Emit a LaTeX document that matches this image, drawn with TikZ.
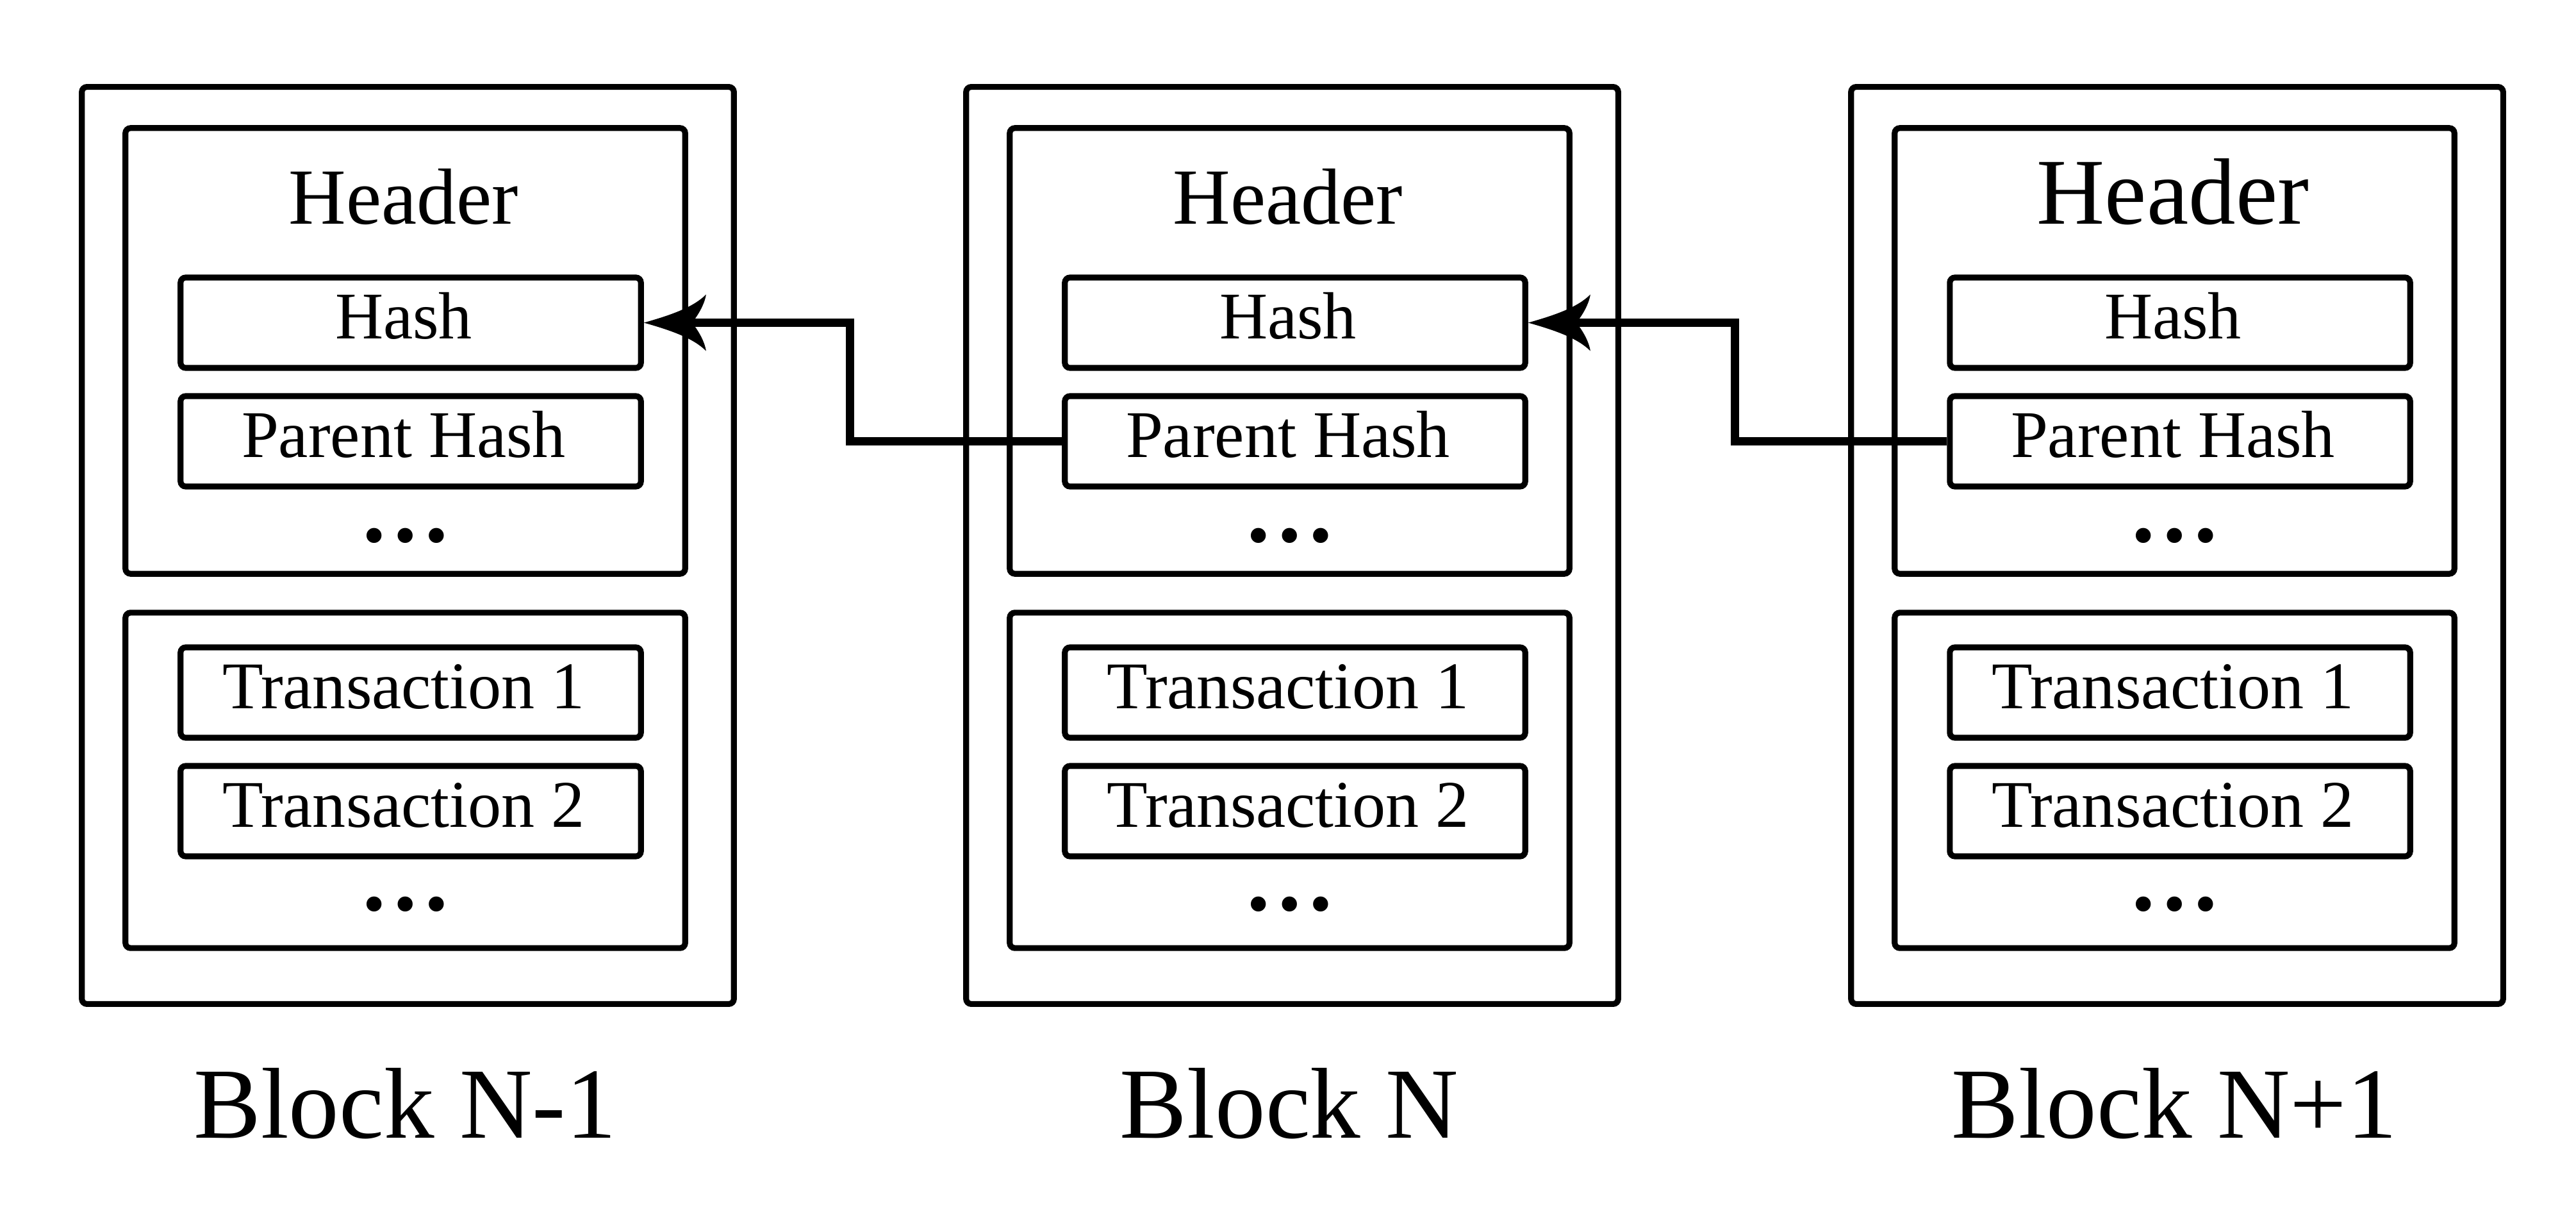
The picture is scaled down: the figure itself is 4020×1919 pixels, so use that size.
\documentclass[tikz,border=0pt]{standalone}
\usepackage{fontspec}
\setmainfont{Liberation Serif}
\usetikzlibrary{arrows.meta,calc}

\pgfdeclarearrow{
  name = Barb,
  parameters = {\the\pgfarrowlength,\the\pgfarrowwidth},
  setup code = {
    \pgfarrowssettipend{\pgfarrowlength}
    \pgfarrowssetlineend{.5\pgfarrowlength}
    \pgfarrowssetvisualbackend{0pt}
    \pgfarrowssetbackend{0pt}
    \pgfarrowssavethe\pgfarrowlength
    \pgfarrowssavethe\pgfarrowwidth
  },
  drawing code = {
    \pgfpathmoveto{\pgfqpoint{\pgfarrowlength}{0pt}}
    \pgfpathcurveto{\pgfqpoint{.567\pgfarrowlength}{.135\pgfarrowwidth}}{\pgfqpoint{.206\pgfarrowlength}{.2725\pgfarrowwidth}}{\pgfqpoint{0pt}{.5\pgfarrowwidth}}
    \pgfpathcurveto{\pgfqpoint{.02\pgfarrowlength}{.34\pgfarrowwidth}}{\pgfqpoint{.124\pgfarrowlength}{.135\pgfarrowwidth}}{\pgfqpoint{.227\pgfarrowlength}{0pt}}
    \pgfpathcurveto{\pgfqpoint{.124\pgfarrowlength}{-.135\pgfarrowwidth}}{\pgfqpoint{.02\pgfarrowlength}{-.34\pgfarrowwidth}}{\pgfqpoint{0pt}{-.5\pgfarrowwidth}}
    \pgfpathcurveto{\pgfqpoint{.206\pgfarrowlength}{-.2725\pgfarrowwidth}}{\pgfqpoint{.567\pgfarrowlength}{-.135\pgfarrowwidth}}{\pgfqpoint{\pgfarrowlength}{0pt}}
    \pgfpathclose
    \pgfusepathqfill
  },
  defaults = {length = 9.7mm, width = 8.8mm}
}

\begin{document}
\begin{tikzpicture}[x=0.01cm,y=-0.01cm,
  blk/.style={draw, line width=2.6pt, rounded corners=0.08cm, inner sep=0pt,
    minimum width=10.17cm, minimum height=14.3cm},
  sect/.style={draw, line width=2.6pt, rounded corners=0.08cm, inner sep=0pt,
    minimum width=8.73cm},
  fld/.style={draw, line width=2.6pt, rounded corners=0.08cm, inner sep=0pt,
    minimum width=7.18cm, minimum height=1.41cm, text height=0.5cm, text depth=0pt,
    font=\fontsize{29.6pt}{32pt}\selectfont, execute at end node={\hspace*{0.22cm}}},
  hdr/.style={anchor=base, inner sep=0pt},
  dotsn/.style={anchor=base, inner sep=0pt, font=\fontsize{41pt}{41pt}\selectfont\bfseries},
  lbl/.style={anchor=base, inner sep=0pt, font=\fontsize{44.7pt}{50pt}\selectfont},
  conn/.style={line width=3.7pt, -{Barb[length=0.97cm,width=0.88cm]}}
]
\useasboundingbox (0,0) rectangle (4020,1919);

\foreach \i/\L/\lab/\hs in {1/128/{Block N-1}/35.3, 2/1508/{Block N}/35.3, 3/2889/{Block N+1}/41.8}{
  \node[blk] (b\i) at (\L+508.5, 851) {};
  \node[sect, minimum height=6.95cm] (hd\i) at (\L+504.5, 547.5) {};
  \node[hdr, font=\fontsize{\hs pt}{\hs pt}\selectfont] (ht\i) at (\L+502, 350) {Header};
  \node[fld] (h\i) at (\L+513, 503.5) {Hash};
  \node[fld] (p\i) at (\L+513, 688.5) {Parent Hash};
  \node[dotsn] (hdots\i) at (\L+505, 846) {…};
  \node[sect, minimum height=5.23cm] (tx\i) at (\L+504.5, 1217.5) {};
  \node[fld] (ta\i) at (\L+513, 1080.5) {Transaction 1};
  \node[fld] (tb\i) at (\L+513, 1265.5) {Transaction 2};
  \node[dotsn] (tdots\i) at (\L+505, 1420) {…};
  \node[lbl] (l\i) at (\L+504, 1775) {\lab};
}

\path ($(b1.east)!0.5!(b2.west)$) coordinate (mx12);
\path ($(b2.east)!0.5!(b3.west)$) coordinate (mx23);
\coordinate (m12) at (mx12 |- h1.east);
\coordinate (m23) at (mx23 |- h2.east);

\draw[conn] (p2.west) -| (m12) -- (h1.east);
\draw[conn] (p3.west) -| (m23) -- (h2.east);
\end{tikzpicture}
\end{document}
